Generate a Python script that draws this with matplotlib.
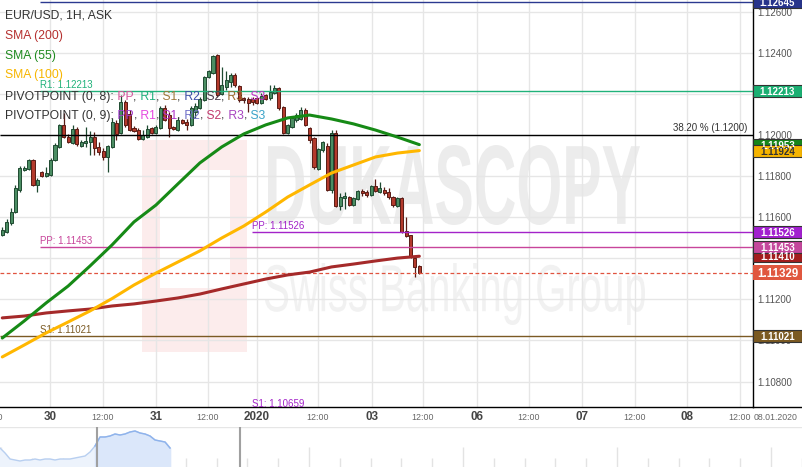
import numpy as np
import matplotlib
matplotlib.use("Agg")
import matplotlib.pyplot as plt
from matplotlib.patches import Rectangle, PathPatch
from matplotlib.lines import Line2D
from matplotlib.textpath import TextPath
from matplotlib.font_manager import FontProperties
from matplotlib.transforms import Affine2D, IdentityTransform, blended_transform_factory
from matplotlib.offsetbox import TextArea, HPacker, AnnotationBbox

plt.rcParams['font.family'] = ['Liberation Sans', 'DejaVu Sans']

# EUR/USD 1H candles
opens = [1.11513, 1.11528, 1.11572, 1.11625, 1.11732, 1.11830, 1.11835, 1.11878, 1.11757, 1.11820,
         1.11800, 1.11805, 1.11878, 1.11942, 1.12049, 1.11990, 1.11961, 1.12029, 1.11946, 1.11961,
         1.11966, 1.11990, 1.11942, 1.11922, 1.11893, 1.11942, 1.12058, 1.12010, 1.12161, 1.12102,
         1.12034, 1.12024, 1.11981, 1.11990, 1.12034, 1.12010, 1.12034, 1.12131, 1.12097, 1.12039,
         1.12024, 1.12073, 1.12063, 1.12049, 1.12112, 1.12131, 1.12170, 1.12282, 1.12302, 1.12389,
         1.12200, 1.12234, 1.12258, 1.12292, 1.12238, 1.12180, 1.12175, 1.12175, 1.12180, 1.12156,
         1.12195, 1.12180, 1.12204, 1.12229, 1.12136, 1.12010, 1.12039, 1.12073, 1.12078, 1.12122,
         1.12034, 1.11985, 1.11835, 1.11927, 1.11946, 1.11732, 1.12010, 1.11655, 1.11693, 1.11698,
         1.11659, 1.11689, 1.11728, 1.11723, 1.11708, 1.11752, 1.11723, 1.11732, 1.11723, 1.11698,
         1.11655, 1.11693, 1.11533, 1.11513, 1.11401, 1.11363]
highs = [1.11552, 1.11591, 1.11645, 1.11757, 1.11849, 1.11849, 1.11883, 1.11883, 1.11791, 1.11825,
         1.11844, 1.11888, 1.11961, 1.12054, 1.12107, 1.12005, 1.12049, 1.12039, 1.11976, 1.12039,
         1.12019, 1.12015, 1.11966, 1.11937, 1.11951, 1.12083, 1.12073, 1.12195, 1.12170, 1.12122,
         1.12044, 1.12034, 1.12024, 1.12049, 1.12039, 1.12049, 1.12141, 1.12146, 1.12112, 1.12044,
         1.12088, 1.12078, 1.12078, 1.12141, 1.12156, 1.12185, 1.12287, 1.12316, 1.12389, 1.12394,
         1.12331, 1.12311, 1.12302, 1.12302, 1.12243, 1.12185, 1.12185, 1.12185, 1.12185, 1.12204,
         1.12200, 1.12243, 1.12243, 1.12234, 1.12141, 1.12054, 1.12088, 1.12107, 1.12136, 1.12131,
         1.12039, 1.11990, 1.11937, 1.11971, 1.11961, 1.12024, 1.12024, 1.11718, 1.11723, 1.11703,
         1.11698, 1.11732, 1.11737, 1.11732, 1.11757, 1.11786, 1.11771, 1.11747, 1.11742, 1.11703,
         1.11698, 1.11698, 1.11601, 1.11513, 1.11406, 1.11368]
lows = [1.11509, 1.11523, 1.11562, 1.11620, 1.11723, 1.11825, 1.11830, 1.11752, 1.11723, 1.11796,
        1.11796, 1.11800, 1.11873, 1.11937, 1.11985, 1.11961, 1.11956, 1.11946, 1.11942, 1.11942,
        1.11903, 1.11903, 1.11903, 1.11878, 1.11820, 1.11937, 1.11976, 1.12005, 1.12039, 1.12019,
        1.12015, 1.11976, 1.11976, 1.11985, 1.12005, 1.12005, 1.12029, 1.12068, 1.11990, 1.12024,
        1.12019, 1.12054, 1.12024, 1.12044, 1.12083, 1.12127, 1.12165, 1.12277, 1.12297, 1.12185,
        1.12195, 1.12219, 1.12234, 1.12234, 1.12161, 1.12156, 1.12112, 1.12146, 1.12151, 1.12151,
        1.12170, 1.12170, 1.12200, 1.12122, 1.12005, 1.12005, 1.12034, 1.12063, 1.12073, 1.12044,
        1.11961, 1.11835, 1.11830, 1.11917, 1.11728, 1.11718, 1.11650, 1.11635, 1.11640, 1.11655,
        1.11655, 1.11684, 1.11703, 1.11698, 1.11703, 1.11723, 1.11718, 1.11708, 1.11689, 1.11650,
        1.11650, 1.11523, 1.11504, 1.11401, 1.11309, 1.11324]
closes = [1.11538, 1.11577, 1.11625, 1.11742, 1.11839, 1.11839, 1.11878, 1.11757, 1.11781, 1.11800,
          1.11815, 1.11878, 1.11951, 1.12049, 1.11990, 1.11966, 1.12029, 1.11956, 1.11966, 1.11971,
          1.11990, 1.11937, 1.11917, 1.11893, 1.11946, 1.12063, 1.12005, 1.12161, 1.12049, 1.12024,
          1.12019, 1.11981, 1.12000, 1.12029, 1.12010, 1.12039, 1.12131, 1.12073, 1.12034, 1.12029,
          1.12073, 1.12058, 1.12049, 1.12131, 1.12141, 1.12175, 1.12282, 1.12311, 1.12384, 1.12195,
          1.12243, 1.12268, 1.12292, 1.12243, 1.12170, 1.12170, 1.12156, 1.12161, 1.12156, 1.12190,
          1.12175, 1.12209, 1.12229, 1.12131, 1.12010, 1.12049, 1.12083, 1.12097, 1.12122, 1.12049,
          1.11976, 1.11844, 1.11932, 1.11966, 1.11732, 1.12010, 1.11655, 1.11698, 1.11703, 1.11659,
          1.11693, 1.11728, 1.11718, 1.11708, 1.11752, 1.11728, 1.11742, 1.11718, 1.11698, 1.11659,
          1.11693, 1.11528, 1.11509, 1.11406, 1.11358, 1.11329]

# moving averages, read every 5th candle
sma_step = 5
sma55 = [1.11012, 1.11095, 1.11183, 1.11265, 1.11363, 1.11465, 1.11577, 1.11659, 1.11762, 1.11864,
         1.11942, 1.12005, 1.12049, 1.12083, 1.12097, 1.12078, 1.12054, 1.12024, 1.11990, 1.11953]
sma100 = [1.10920, 1.10978, 1.11037, 1.11090, 1.11144, 1.11204, 1.11270, 1.11328, 1.11382, 1.11436,
          1.11499, 1.11557, 1.11625, 1.11698, 1.11757, 1.11815, 1.11854, 1.11893, 1.11912, 1.11924]
sma200 = [1.11110, 1.11119, 1.11134, 1.11144, 1.11153, 1.11168, 1.11178, 1.11192, 1.11207, 1.11226,
          1.11251, 1.11275, 1.11299, 1.11319, 1.11333, 1.11358, 1.11372, 1.11387, 1.11401, 1.11410]

# pivot / fib levels
r2_a, r1_a, pp_a, s1_a = 1.12645, 1.12213, 1.11453, 1.11021
pp_b, s1_b = 1.11526, 1.10659
fib382 = 1.12000
last_price = 1.11329

# x axis labels
day_labels = ['30', '31', '2020', '03', '06', '07', '08']
day_pos = [10.87, 35.01, 58.02, 84.21, 108.13, 132.05, 155.96]
half_pos = [22.94, 46.86, 71.92, 95.83, 119.98, 144.12, 168.03]

# navigator series
nav_prices = [1.1095, 1.1070, 1.1040, 1.1035, 1.1030, 1.1035, 1.1035, 1.1040, 1.1035, 1.1040,
              1.1040, 1.1035, 1.1040, 1.1040, 1.1040, 1.1045, 1.1050, 1.1055, 1.1075, 1.1105,
              1.1150, 1.1150, 1.1155, 1.1165, 1.1160, 1.1165, 1.1175, 1.1180, 1.1170, 1.1165,
              1.1155, 1.1135, 1.1130, 1.1125, 1.1095]

W, H = 803, 467
fig = plt.figure(figsize=(W / 100, H / 100), dpi=100)
fig.patch.set_facecolor('white')


def stamp(text, box, color, weight='bold'):
    tp = TextPath((0, 0), text, size=100, prop=FontProperties(family='Liberation Sans', weight=weight))
    bb = tp.get_extents()
    x0, y0, x1, y1 = box
    tr = Affine2D().translate(-bb.x0, -bb.y0).scale((x1 - x0) / bb.width, (y1 - y0) / bb.height)
    tr = tr.translate(x0, H - y1)
    fig.add_artist(PathPatch(tr.transform_path(tp), fc=color, ec='none',
                             transform=IdentityTransform(), zorder=0.5))


def block(x0, y0, x1, y1, color):
    fig.add_artist(Rectangle((x0, H - y1), x1 - x0, y1 - y0, fc=color, ec='none',
                             transform=IdentityTransform(), zorder=0.4))


# watermark
block(142, 140, 247, 352, '#fcecec')
block(160, 170, 230, 288, 'white')
stamp('DUKASCOPY', (268, 145, 640, 225), '#ececec')
stamp('Swiss Banking Group', (265, 263, 645, 325), '#f1f1f1', weight='normal')

ax = fig.add_axes([0, 60 / H, 753 / W, 407 / H])
ax.set_facecolor('none')
ax.set_zorder(2)
ax.set_xlim(-0.52, 171.0)
ax.set_ylim(1.106764, 1.126569)

x = np.arange(len(opens))
o = np.array(opens)
c = np.array(closes)
up = c >= o
body_col = np.where(up, '#4b8d63', '#b33a2c')
edge_col = np.where(up, '#1f4a31', '#5a1c15')
ax.vlines(x, lows, highs, colors=edge_col, lw=0.9, zorder=3)
ax.bar(x, np.maximum(np.abs(c - o), 0.00002), bottom=np.minimum(o, c), width=0.7,
       color=body_col, edgecolor=edge_col, linewidth=0.7, zorder=3.1)

# levels
full = (-0.6, 172)
ax.hlines(r2_a, 8.6, full[1], color='#2b3990', lw=1, zorder=3.5)
ax.hlines(r1_a, 8.6, full[1], color='#20b27a', lw=1, zorder=3.5)
ax.hlines(fib382, *full, color='black', lw=1, zorder=3.5)
ax.hlines(pp_b, 56.9, full[1], color='#a323c9', lw=1, zorder=3.5)
ax.hlines(pp_a, 8.6, full[1], color='#c8459b', lw=1, zorder=3.5)
ax.hlines(s1_a, *full, color='#7b5a24', lw=1, zorder=3.5)
ax.hlines(last_price, *full, color='#e0533f', lw=0.9, linestyles=(0, (3, 2)), zorder=3.5)

lvl_labels = [('R2: 1.12645', 8.6, r2_a, '#2b3990'), ('R1: 1.12213', 8.6, r1_a, '#20b27a'),
              ('PP: 1.11453', 8.6, pp_a, '#c8459b'), ('PP: 1.11526', 56.9, pp_b, '#a323c9'),
              ('S1: 1.11021', 8.6, s1_a, '#7b5a24'), ('S1: 1.10659', 56.9, s1_b, '#a323c9')]
for txt, lx, ly, col in lvl_labels:
    t = ax.annotate(txt, (lx, ly), xytext=(0, 0.8), textcoords='offset points', color=col,
                    fontsize=7, va='bottom', ha='left', annotation_clip=False, zorder=4)
    t.set_clip_box(ax.bbox)
ax.annotate('38.20 % (1.1200)', (1.0, fib382), xycoords=('axes fraction', 'data'),
            xytext=(-4, 1.2), textcoords='offset points', ha='right', va='bottom',
            fontsize=7, color='#333333', zorder=4)

# SMAs
sx = np.arange(len(sma55)) * sma_step
ax.plot(sx, sma200, color='#a52a2a', lw=2.2, zorder=5, solid_capstyle='round')
ax.plot(sx, sma55, color='#168a16', lw=2.2, zorder=5.1, solid_capstyle='round')
ax.plot(sx, sma100, color='#ffb700', lw=2.2, zorder=5.2, solid_capstyle='round')

# axes styling
ax.yaxis.tick_right()
yt = np.arange(1.108, 1.1261, 0.002)
ax.set_yticks(yt)
ax.set_yticklabels([f'{v:.5f}' for v in yt], fontsize=7, color='#555555')
ax.tick_params(axis='y', length=0, pad=3)
ax.set_xticks(day_pos)
ax.set_xticklabels(day_labels, fontsize=8.4, fontweight='bold', color='#444444')
ax.set_xticks(half_pos, minor=True)
ax.set_xticklabels(['12:00'] * len(half_pos), minor=True, fontsize=6.4, color='#666666')
ax.tick_params(axis='x', which='major', length=0, pad=3)
ax.tick_params(axis='x', which='minor', length=0, pad=4.2)
ax.grid(True, which='both', axis='x', color='#e6e6e6', lw=1, zorder=0)
ax.grid(True, which='major', axis='y', color='#e6e6e6', lw=1, zorder=0)
for s in ['top', 'left']:
    ax.spines[s].set_visible(False)
for s in ['right', 'bottom']:
    ax.spines[s].set_color('black')
    ax.spines[s].set_linewidth(1)
fig.add_artist(Line2D([753 / W, 1], [60 / H, 60 / H], color='black', lw=1))
fig.text(776 / W, (H - 417) / H, '08.01.2020', ha='center', va='center', fontsize=6.3, color='#666666')
fig.text(3 / W, (H - 417) / H, '12:00', ha='right', va='center', fontsize=6.4, color='#666666')

# price tags on the right axis
tag_tr = blended_transform_factory(ax.transAxes, ax.transData)
tag_h = 12 / 20550


def tag(value, fc, tc='white', big=False):
    h = tag_h * (1.25 if big else 1)
    ax.add_patch(Rectangle((1.0, value - h / 2), 49 / 753, h, transform=tag_tr, fc=fc,
                           ec='none' if big else '#333333', lw=0.8, clip_on=False, zorder=10))
    ax.text(1.0 + 24.5 / 753, value, f'{value:.5f}', transform=tag_tr, ha='center',
            va='center_baseline', fontsize=8.3 if big else 7, fontweight='bold', color=tc,
            clip_on=False, zorder=11)


tag(r2_a, '#27348b')
tag(r1_a, '#1aaf72')
tag(sma55[-1], '#16861a')
tag(sma100[-1], '#f5b400', tc='#333333')
tag(pp_b, '#a21fcf')
tag(sma200[-1], '#a31d1d')
tag(pp_a, '#c4479c')
tag(s1_a, '#7b5a22')
tag(last_price, '#e0573f', big=True)

# legend block
def colored(parts, ypix):
    boxes = [TextArea(s, textprops=dict(color=col, fontsize=8.7)) for s, col in parts]
    pack = HPacker(children=boxes, align='baseline', pad=0, sep=0)
    ab = AnnotationBbox(pack, (5, H - ypix), xycoords='figure pixels', box_alignment=(0, 0.5),
                        frameon=False, pad=0)
    ab.set_zorder(20)
    fig.add_artist(ab)


gray = '#333333'
colored([('EUR/USD, 1H, ASK', gray)], 15)
colored([('SMA (200)', '#b5302f')], 36)
colored([('SMA (55)', '#1f8a1f')], 56)
colored([('SMA (100)', '#f7b500')], 75)
piv8 = [('PP', '#d4559c'), ('R1', '#22b07d'), ('S1', '#a0783a'), ('R2', '#3d4fa8'),
        ('S2', '#4a3a4a'), ('R3', '#9b6b2c'), ('S3', '#c036c8')]
piv9 = [('PP', '#a23bd0'), ('R1', '#e548e0'), ('S1', '#b035c9'), ('R2', '#6f6fc8'),
        ('S2', '#c23a6e'), ('R3', '#a845c0'), ('S3', '#3aa3c8')]
for head, items, yp in [('PIVOTPOINT (0, 8):', piv8, 97), ('PIVOTPOINT (0, 9):', piv9, 116)]:
    parts = [(head, gray)]
    for k, (s, col) in enumerate(items):
        parts.append((' ' + s, col))
        if k < len(items) - 1:
            parts.append((',', gray))
    colored(parts, yp)

# navigator
nav = fig.add_axes([0, 0, 1, 40 / H])
nav.set_xlim(0, W / 5)
nav.set_ylim(1.100, 1.120)
nav.axis('off')
for k in range(27):
    px = 1 + k * 30.8
    top = 1.110 if k % 5 == 0 else 1.1045
    nav.vlines(px / 5, 1.100, top, color='#e3e3e3', lw=1, zorder=0)
nx = np.arange(len(nav_prices))
npr = np.array(nav_prices)
nav.fill_between(nx, 1.100, npr, color='#edf3fc', zorder=1)
nav.plot(nx, npr, color='#b8cff0', lw=1, zorder=2)
sel = nx >= 19
nav.fill_between(nx[sel], 1.100, npr[sel], color='#dbe7fa', zorder=1.5)
nav.plot(nx[sel], npr[sel], color='#8fb3ec', lw=1, zorder=2)
nav.axhline(1.1198, color='#e6e6e6', lw=1)
nav.vlines([97 / 5, 240 / 5], 1.100, 1.120, color='#a0a0a0', lw=1.5, zorder=3)

fig.savefig('out.png', dpi=100)
